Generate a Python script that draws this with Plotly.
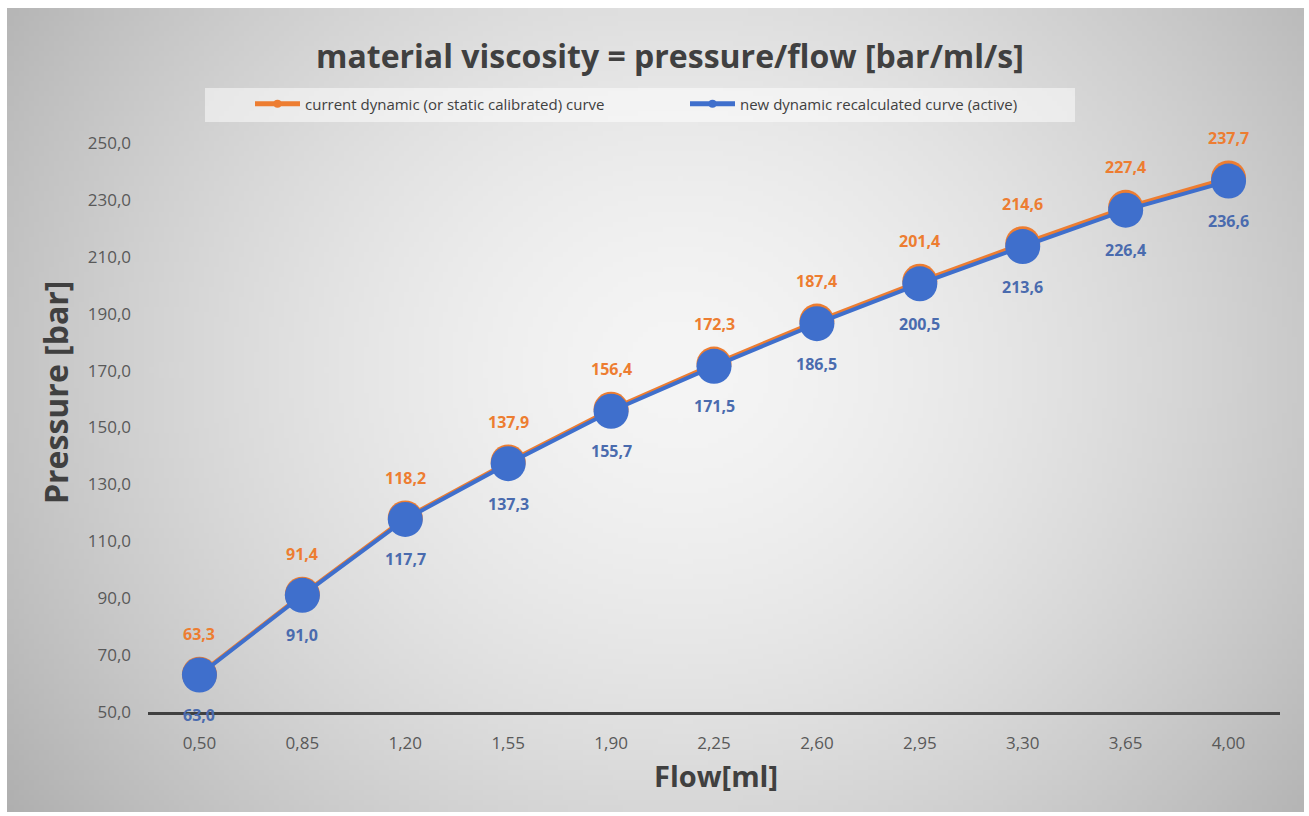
import base64
import struct
import zlib

import numpy as np
import plotly.graph_objects as go

# ---- data -------------------------------------------------------------
flow_ml = [0.50, 0.85, 1.20, 1.55, 1.90, 2.25, 2.60, 2.95, 3.30, 3.65, 4.00]
current_curve = [63.3, 91.4, 118.2, 137.9, 156.4, 172.3, 187.4, 201.4, 214.6, 227.4, 237.7]
new_curve = [63.0, 91.0, 117.7, 137.3, 155.7, 171.5, 186.5, 200.5, 213.6, 226.4, 236.6]
y_ticks = [50, 70, 90, 110, 130, 150, 170, 190, 210, 230, 250]

TITLE = "material viscosity = pressure/flow [bar/ml/s]"
NAME_CURRENT = "current dynamic (or static calibrated) curve"
NAME_NEW = "new dynamic recalculated curve (active)"

ORANGE = "#ED7D31"
BLUE = "#3F6FCC"
BLUE_TEXT = "#4A6BAE"
DARK = "#404040"
TICK = "#595959"


def comma(v, nd):
    return f"{v:.{nd}f}".replace(".", ",")


categories = [comma(v, 2) for v in flow_ml]

# ---- page geometry (pixels) --------------------------------------------
W, H = 1309, 816
M_L, M_R, M_T, M_B = 148, 29, 143, 104
PW, PH = W - M_L - M_R, H - M_T - M_B


def px_x(x):
    return (x - M_L) / PW


def px_y(y):
    return (H - M_B - y) / PH


# ---- radial grey backdrop as an inline PNG ----------------------------
def gray_png(arr):
    h, w = arr.shape
    raw = b"".join(b"\x00" + arr[r].tobytes() for r in range(h))

    def chunk(tag, data):
        c = struct.pack(">I", len(data)) + tag + data
        return c + struct.pack(">I", zlib.crc32(tag + data) & 0xFFFFFFFF)

    png = b"\x89PNG\r\n\x1a\n"
    png += chunk(b"IHDR", struct.pack(">IIBBBBB", w, h, 8, 0, 0, 0, 0))
    png += chunk(b"IDAT", zlib.compress(raw, 9))
    png += chunk(b"IEND", b"")
    return "data:image/png;base64," + base64.b64encode(png).decode()


gw, gh = 260, 160
gx = np.linspace(0, 1, gw)[None, :]
gy = np.linspace(0, 1, gh)[:, None]
dist = np.sqrt(((gx - 0.52) / 0.55) ** 2 + ((gy - 0.45) / 0.80) ** 2)
shade = 245 - 54 * np.clip(dist, 0, 1.25) ** 1.6
backdrop = gray_png(np.clip(shade, 0, 255).astype(np.uint8))

BG_L, BG_T, BG_R, BG_B = 7, 8, 1304, 812

# ---- figure -------------------------------------------------------------
fig = go.Figure()

fig.add_trace(go.Scatter(
    x=categories, y=current_curve, mode="lines+markers",
    line=dict(color=ORANGE, width=4),
    marker=dict(color=ORANGE, size=35),
    showlegend=False, hoverinfo="skip",
))
fig.add_trace(go.Scatter(
    x=categories, y=new_curve, mode="lines+markers",
    line=dict(color=BLUE, width=4),
    marker=dict(color=BLUE, size=35),
    showlegend=False, hoverinfo="skip",
))

# legend entries with small symbols
fig.add_trace(go.Scatter(
    x=[None], y=[None], mode="lines+markers", name=NAME_CURRENT,
    line=dict(color=ORANGE, width=5), marker=dict(color=ORANGE, size=8),
))
fig.add_trace(go.Scatter(
    x=[None], y=[None], mode="lines+markers", name=NAME_NEW,
    line=dict(color=BLUE, width=5), marker=dict(color=BLUE, size=8),
))

annotations = []
for c, v in zip(categories, current_curve):
    annotations.append(dict(
        x=c, y=v, xref="x", yref="y", text=comma(v, 1), showarrow=False,
        yshift=40, font=dict(family="Open Sans", size=16, color=ORANGE, weight="bold"),
    ))
for c, v in zip(categories, new_curve):
    annotations.append(dict(
        x=c, y=v, xref="x", yref="y", text=comma(v, 1), showarrow=False,
        yshift=-40, font=dict(family="Open Sans", size=16, color=BLUE_TEXT, weight="bold"),
    ))

# title and axis titles
annotations.append(dict(
    x=px_x(670), y=px_y(55), xref="paper", yref="paper", text=TITLE,
    showarrow=False, xanchor="center", yanchor="middle",
    font=dict(family="Open Sans", size=32, color=DARK, weight="bold"),
))
annotations.append(dict(
    x=px_x(716), y=px_y(775), xref="paper", yref="paper", text="Flow[ml]",
    showarrow=False, xanchor="center", yanchor="middle",
    font=dict(family="Open Sans", size=29, color=DARK, weight="bold"),
))
annotations.append(dict(
    x=px_x(55), y=px_y(393), xref="paper", yref="paper", text="Pressure [bar]",
    showarrow=False, xanchor="center", yanchor="middle", textangle=-90,
    font=dict(family="Open Sans", size=32, color=DARK, weight="bold"),
))

fig.update_layout(
    width=W, height=H,
    margin=dict(l=M_L, r=M_R, t=M_T, b=M_B),
    paper_bgcolor="white",
    plot_bgcolor="rgba(0,0,0,0)",
    separators=",.",
    showlegend=True,
    legend=dict(
        orientation="h", x=px_x(250), y=px_y(104), xanchor="left", yanchor="middle",
        bgcolor="rgba(0,0,0,0)", itemwidth=45, tracegroupgap=0,
        entrywidth=375, entrywidthmode="pixels",
        font=dict(family="Open Sans", size=15, color=DARK),
    ),
    images=[dict(
        source=backdrop, xref="paper", yref="paper",
        x=px_x(BG_L), y=px_y(BG_T),
        sizex=px_x(BG_R) - px_x(BG_L), sizey=px_y(BG_T) - px_y(BG_B),
        xanchor="left", yanchor="top", sizing="stretch", layer="below",
    )],
    shapes=[dict(
        type="rect", xref="paper", yref="paper", layer="below",
        x0=px_x(205), x1=px_x(1075), y0=px_y(122), y1=px_y(88),
        fillcolor="rgba(255,255,255,0.5)", line=dict(width=0),
    )],
    annotations=annotations,
    xaxis=dict(
        type="category", range=[-0.5, len(categories) - 0.5],
        showgrid=False, zeroline=False,
        showline=True, linecolor=DARK, linewidth=3,
        ticks="", ticklabelstandoff=14,
        tickfont=dict(family="Open Sans", size=17, color=TICK),
    ),
    yaxis=dict(
        range=[50, 250], tickvals=y_ticks, tickformat=".1f",
        showgrid=False, zeroline=False, showline=False,
        ticks="", ticklabelstandoff=16,
        tickfont=dict(family="Open Sans", size=17, color=TICK),
    ),
)

fig.write_html("out.html")
